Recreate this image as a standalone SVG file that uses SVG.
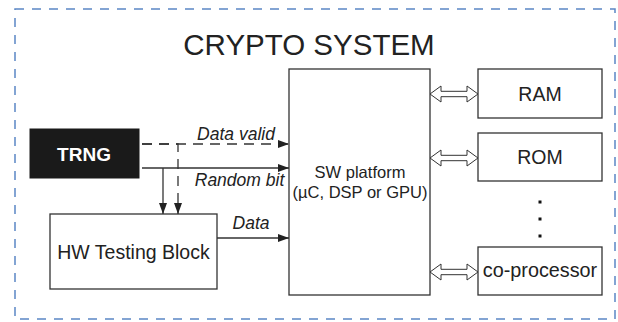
<svg xmlns="http://www.w3.org/2000/svg" width="618" height="322" viewBox="0 0 618 322">
<style>
.box{fill:#fff;stroke:#333;stroke-width:1.3}
.t{font-family:"Liberation Sans",Arial,sans-serif;fill:#222}
.lbl{font-family:"Liberation Sans",Arial,sans-serif;font-style:italic;font-size:17.5px;fill:#222}
.ln{stroke:#333;stroke-width:1.3;fill:none}
.dsh{stroke-dasharray:10,7}
.dbl{fill:#fff;stroke:#333;stroke-width:1}
</style>
<defs>
<marker id="ah" markerUnits="userSpaceOnUse" markerWidth="12" markerHeight="8" refX="11" refY="4" orient="auto">
<path d="M0,0 L11,4 L0,8 z" fill="#222"/>
</marker>
</defs>
<rect x="15" y="9" width="600" height="310" fill="none" stroke="#5b87c5" stroke-width="1.5" stroke-dasharray="9,8"/>
<text class="t" x="309" y="55" font-size="29.5" text-anchor="middle">CRYPTO SYSTEM</text>

<g id="trng">
<rect x="30" y="129" width="109" height="49" fill="#1a1a1a" stroke="#1a1a1a"/>
<text class="t" x="84" y="161" font-size="19" font-weight="bold" text-anchor="middle" style="fill:#fff">TRNG</text>
</g>
<g id="hw">
<rect class="box" x="50" y="214" width="167" height="75"/>
<text class="t" x="133.5" y="259" font-size="19.5" text-anchor="middle">HW Testing Block</text>
</g>
<g id="sw">
<rect class="box" x="289" y="69" width="141" height="226"/>
<text class="t" x="360" y="178" font-size="16.5" text-anchor="middle">SW platform</text>
<text class="t" x="360" y="198" font-size="16.5" text-anchor="middle">(µC, DSP or GPU)</text>
</g>
<g id="ram">
<rect class="box" x="478" y="69" width="124" height="49"/>
<text class="t" x="540" y="101" font-size="19.5" text-anchor="middle">RAM</text>
</g>
<g id="rom">
<rect class="box" x="478" y="133" width="124" height="48"/>
<text class="t" x="540" y="164" font-size="19.5" text-anchor="middle">ROM</text>
</g>
<g id="dots">
<rect x="538.5" y="200.5" width="3" height="3" fill="#111"/>
<rect x="538.5" y="217.5" width="3" height="3" fill="#111"/>
<rect x="538.5" y="234.5" width="3" height="3" fill="#111"/>
</g>
<g id="coproc">
<rect class="box" x="478" y="247" width="124" height="48"/>
<text class="t" x="540" y="277" font-size="19.8" text-anchor="middle">co-processor</text>
</g>

<g id="connectors">
<path class="ln dsh" d="M142,144 H289" marker-end="url(#ah)"/>
<path class="ln dsh" d="M142,144 H178 V214" marker-end="url(#ah)"/>
<path class="ln" d="M142,168 H289" marker-end="url(#ah)"/>
<path class="ln" d="M163,168 V214" marker-end="url(#ah)"/>
<path class="ln" d="M217,238 H289" marker-end="url(#ah)"/>
<text class="lbl" x="236" y="140" text-anchor="middle">Data valid</text>
<text class="lbl" x="239.5" y="186" text-anchor="middle">Random bit</text>
<text class="lbl" x="251" y="229" text-anchor="middle">Data</text>
<polygon class="dbl" points="430,94 441,86 441,91.3 467,91.3 467,86 478,94 467,102 467,96.7 441,96.7 441,102"/>
<polygon class="dbl" points="430,158 441,150 441,155.3 467,155.3 467,150 478,158 467,166 467,160.7 441,160.7 441,166"/>
<polygon class="dbl" points="430,272 441,264 441,269.3 467,269.3 467,264 478,272 467,280 467,274.7 441,274.7 441,280"/>
</g>
</svg>
